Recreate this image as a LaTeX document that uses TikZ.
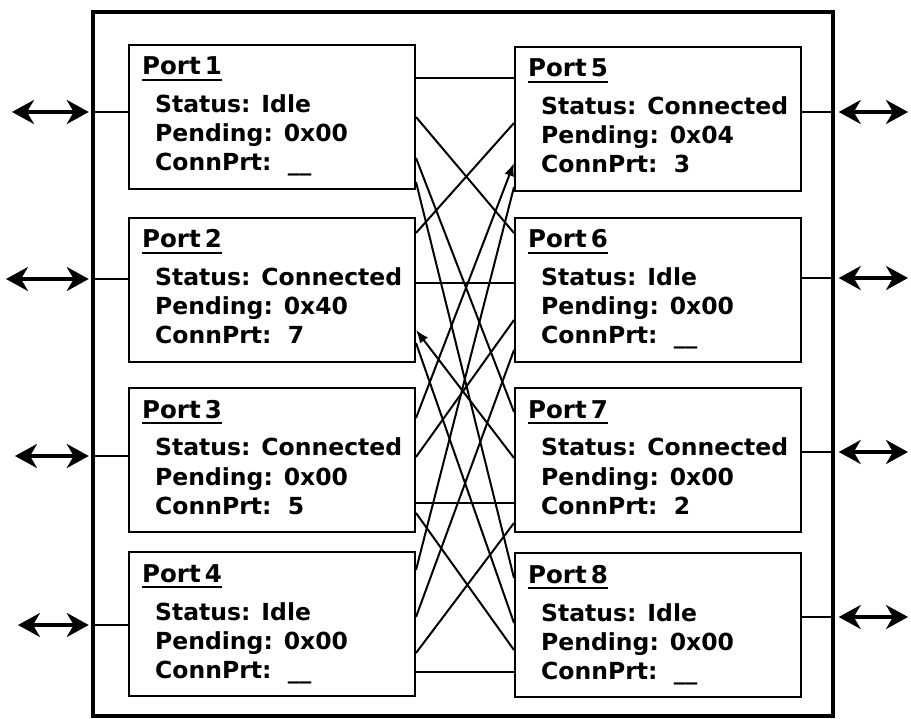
\documentclass[tikz,border=0pt]{standalone}
\usepackage{fontspec}
\setmainfont{DejaVu Sans}
\usetikzlibrary{arrows.meta,calc}

\begin{document}
\begin{tikzpicture}[x=1pt,y=-1pt,
  port/.style={draw,line width=2pt,minimum width=286pt,minimum height=144pt,inner sep=0pt,anchor=north west},
  frame/.style={draw,line width=3.5pt,minimum width=740pt,minimum height=704pt,inner sep=0pt},
  ttl/.style={font=\fontsize{24.5}{29}\selectfont\bfseries,inner sep=0pt,anchor=base west},
  txt/.style={font=\fontsize{23.5}{29}\selectfont\bfseries,inner sep=0pt,anchor=base west},
  con/.style={line width=2pt},
  conin/.style={con,-{Latex[length=13pt,width=10pt]}},
  conout/.style={con,{Latex[length=13pt,width=10pt]}-},
  ext/.style={line width=3.2pt,
    {Stealth[length=22pt,width=24pt,inset=7pt]}-{Stealth[length=22pt,width=24pt,inset=7pt]}}]
  \useasboundingbox (0,0) rectangle (911,719);

  \node[frame] (switch) at (463,364) {};

  % ports
  \foreach \n/\x/\y/\s/\p/\cp in {1/128/44/Idle/0x00/{\_\_}, 2/128/217/Connected/0x40/7,
      3/128/387/Connected/0x00/5, 4/128/551/Idle/0x00/{\_\_},
      5/514/46/Connected/0x04/3, 6/514/217/Idle/0x00/{\_\_},
      7/514/387/Connected/0x00/2, 8/514/552/Idle/0x00/{\_\_}} {
    \node[port] (p\n) at (\x,\y) {};
    \node[ttl] (t\n) at ($(p\n.north west)+(14,31)$) {Port\,\n};
    \draw[line width=2pt] ($(t\n.base west)+(0,5)$) -- ($(t\n.base east)+(0,5)$);
    \node[txt] (s\n) at ($(p\n.north west)+(27,69)$) {Status: \s};
    \node[txt] (d\n) at ($(p\n.north west)+(27,98)$) {Pending: \p};
    \node[txt] (c\n) at ($(p\n.north west)+(27,127)$) {ConnPrt:\ \ \cp};
  }

  % crossbar links
  \foreach \i/\j/\ly/\ry/\st in {1/5/78/78/con, 1/6/117/233/con, 1/7/158/412/con, 1/8/182/578/con,
      2/5/233/123/con, 2/6/283/283/con, 2/7/330/458/conout, 2/8/343/623/con,
      3/5/418/163/conin, 3/6/457/320/con, 3/7/503/503/con, 3/8/513/650/con,
      4/5/570/187/con, 4/6/617/350/con, 4/7/653/523/con, 4/8/672/672/con} {
    \coordinate (la) at (0,\ly);
    \coordinate (ra) at (0,\ry);
    \draw[\st] (p\i.east |- la) -- (p\j.west |- ra);
  }

  % outside lines
  \foreach \n/\a/\h in {1/12/112, 2/6/279, 3/15/456, 4/18/625} {
    \coordinate (e\n) at (\a,\h);
    \draw[ext,shorten >=2.5pt] (e\n) -- (e\n -| switch.west);
    \draw[con] (switch.west |- e\n) -- (p\n.west |- e\n);
  }
  \foreach \n/\h in {5/112, 6/278, 7/452, 8/617} {
    \coordinate (e\n) at (908,\h);
    \draw[ext,shorten <=4pt] (switch.east |- e\n) -- (e\n);
    \draw[con] (p\n.east |- e\n) -- (switch.east |- e\n);
  }
\end{tikzpicture}
\end{document}
